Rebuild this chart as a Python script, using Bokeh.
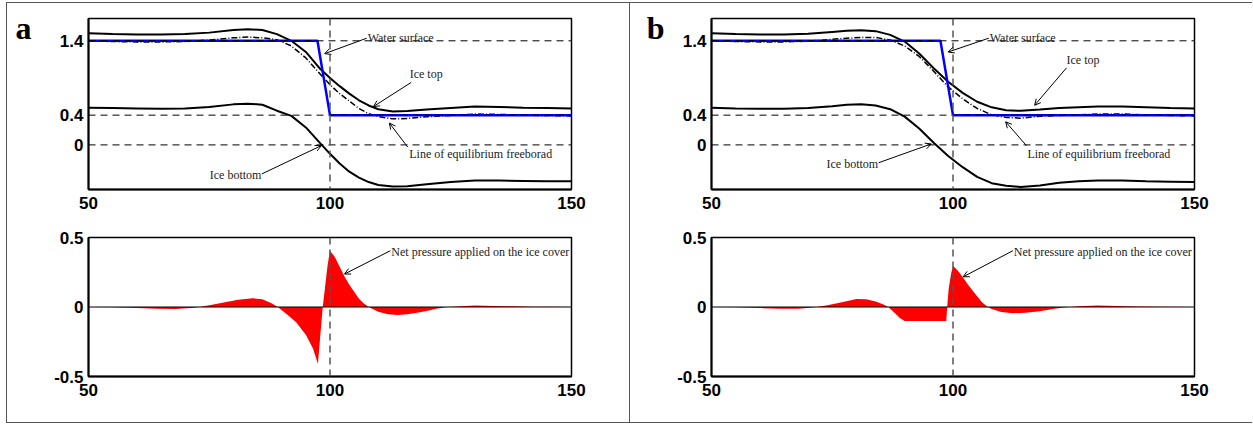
from bokeh.plotting import figure
from bokeh.layouts import row, column
from bokeh.models import Span, Label, Arrow, OpenHead, FixedTicker, Range1d, Spacer, LinearAxis
from bokeh.embed import file_html
from bokeh.resources import INLINE

# ---------------- data ----------------
x_ticks = [50, 100, 150]
top_y_ticks = [0, 0.4, 1.4]
bot_y_ticks = [-0.5, 0, 0.5]

water_x = [50, 97.4, 100, 150]
water_y = [1.4, 1.4, 0.4, 0.4]

# panel a
a_x = [50, 55, 60, 65, 70, 75, 80, 83, 86, 89, 92, 95, 98, 100, 102, 104, 106, 108, 110, 113, 116, 120, 125, 130, 135, 140, 145, 150]
a_ice_top = [1.50, 1.49, 1.485, 1.485, 1.49, 1.51, 1.545, 1.555, 1.545, 1.49, 1.40, 1.25, 1.02, 0.90, 0.79, 0.69, 0.60, 0.53, 0.48, 0.45, 0.455, 0.475, 0.495, 0.515, 0.51, 0.50, 0.495, 0.49]
a_ice_bottom = [0.50, 0.495, 0.49, 0.485, 0.49, 0.51, 0.545, 0.555, 0.54, 0.46, 0.39, 0.235, 0.02, -0.12, -0.25, -0.36, -0.44, -0.50, -0.54, -0.56, -0.555, -0.53, -0.50, -0.48, -0.48, -0.485, -0.49, -0.49]
a_freeboard = [1.40, 1.39, 1.385, 1.385, 1.39, 1.41, 1.44, 1.45, 1.44, 1.415, 1.33, 1.17, 0.95, 0.81, 0.69, 0.59, 0.49, 0.42, 0.38, 0.35, 0.355, 0.38, 0.395, 0.415, 0.41, 0.40, 0.395, 0.39]

a_p_x = [50, 55, 60, 64, 68, 72, 75, 78, 81, 84, 86, 88, 89.2, 91, 93, 95, 96.5, 97.5, 98, 98.5, 99, 99.5, 100, 101, 102, 103, 104, 105, 106, 107, 108, 110, 112, 114, 116, 118, 120, 122, 124, 127, 130, 134, 138, 142, 146, 150]
a_pressure = [0, -0.002, -0.008, -0.013, -0.015, -0.005, 0.012, 0.032, 0.052, 0.063, 0.055, 0.025, 0, -0.05, -0.11, -0.2, -0.3, -0.41, -0.2, 0, 0.15, 0.3, 0.405, 0.36, 0.29, 0.22, 0.16, 0.11, 0.06, 0.025, 0, -0.035, -0.052, -0.058, -0.053, -0.042, -0.028, -0.013, -0.002, 0.006, 0.01, 0.008, 0.005, 0.002, 0.001, 0]

# panel b
b_x = [50, 55, 60, 65, 70, 75, 78, 81, 84, 87, 90, 93, 96, 99, 102, 105, 108, 111, 114, 118, 122, 126, 130, 135, 140, 145, 150]
b_ice_top = [1.50, 1.49, 1.485, 1.485, 1.495, 1.52, 1.535, 1.542, 1.53, 1.48, 1.39, 1.23, 1.03, 0.85, 0.70, 0.58, 0.505, 0.465, 0.458, 0.475, 0.495, 0.505, 0.515, 0.515, 0.505, 0.495, 0.49]
b_ice_bottom = [0.50, 0.49, 0.485, 0.485, 0.495, 0.52, 0.54, 0.547, 0.53, 0.48, 0.38, 0.22, 0.03, -0.15, -0.30, -0.43, -0.515, -0.55, -0.565, -0.545, -0.51, -0.49, -0.48, -0.48, -0.49, -0.495, -0.50]
b_freeboard = [1.40, 1.39, 1.385, 1.385, 1.395, 1.42, 1.435, 1.445, 1.445, 1.41, 1.33, 1.19, 0.99, 0.78, 0.62, 0.49, 0.405, 0.37, 0.36, 0.385, 0.395, 0.405, 0.415, 0.415, 0.405, 0.395, 0.39]

b_p_x = [50, 55, 60, 64, 68, 71, 74, 77, 80, 82, 84, 85.5, 86.6, 88, 89, 90, 94, 98.6, 98.8, 99.1, 99.6, 100, 101, 102, 103, 104, 105, 106, 107, 108, 110, 112.4, 115, 118, 121, 123, 126, 130, 134, 138, 143, 150]
b_pressure = [0, -0.002, -0.008, -0.012, -0.012, -0.004, 0.012, 0.035, 0.058, 0.055, 0.04, 0.02, 0, -0.045, -0.08, -0.1, -0.1, -0.1, 0, 0.13, 0.24, 0.297, 0.26, 0.215, 0.165, 0.12, 0.078, 0.035, 0.005, -0.015, -0.036, -0.045, -0.042, -0.03, -0.013, -0.004, 0.005, 0.01, 0.008, 0.004, 0.002, 0]

TICK_FONT = "Liberation Sans"
ANN_FONT = "Liberation Serif"
ANN_SIZE = "12px"
LETTER_Y = 1.57


def style_axes(p, yticks, overrides):
    p.xgrid.visible = False
    p.ygrid.visible = False
    p.outline_line_color = "black"
    p.outline_line_width = 1.5
    p.xaxis.ticker = FixedTicker(ticks=x_ticks)
    p.yaxis.ticker = FixedTicker(ticks=yticks)
    p.yaxis.major_label_overrides = overrides
    for ax in (p.xaxis, p.yaxis):
        ax.major_tick_line_color = None
        ax.minor_tick_line_color = None
        ax.axis_line_color = "black"
        ax.axis_line_width = 2
        ax.major_label_text_font = TICK_FONT
        ax.major_label_text_font_style = "bold"
        ax.major_label_text_font_size = "17px"
        ax.major_label_text_color = "black"
    p.xaxis.major_label_standoff = 1
    p.yaxis.major_label_standoff = -1


def annotate(p, text, tx, ty, ax0, ay0, ax1, ay1, align="left"):
    p.add_layout(Label(x=tx, y=ty, text=text, text_font=ANN_FONT, text_font_size=ANN_SIZE,
                       text_color="#222222", text_align=align, text_baseline="middle"))
    p.add_layout(Arrow(end=OpenHead(size=6, line_width=1, line_color="black"),
                       x_start=ax0, y_start=ay0, x_end=ax1, y_end=ay1,
                       line_color="black", line_width=1))


def make_top(xs, top, bottom, fb, letter, letter_standoff, ann):
    p = figure(width=622, height=216, x_range=Range1d(50, 150), y_range=Range1d(-0.6, 1.7),
               output_backend="svg", toolbar_location=None,
               min_border_left=81, min_border_right=58, min_border_top=15, min_border_bottom=30)
    style_axes(p, top_y_ticks, {0: "0", 0.4: "0.4", 1.4: "1.4"})
    for lvl in top_y_ticks:
        p.add_layout(Span(location=lvl, dimension="width", line_color="black",
                          line_width=1, line_dash="7 5"))
    p.add_layout(Span(location=100, dimension="height", line_color="#555555",
                      line_width=1.5, line_dash="7 5"))
    p.line(xs, top, line_color="black", line_width=2)
    p.line(xs, bottom, line_color="black", line_width=2)
    p.line(xs, fb, line_color="black", line_width=1.5, line_dash="6 2 1 2")
    p.line(water_x, water_y, line_color="#0000ff", line_width=2.5)
    for a in ann:
        annotate(p, *a)
    # panel letter, carried by an extra (invisible) left axis
    letter_axis = LinearAxis(ticker=FixedTicker(ticks=[LETTER_Y]),
                             major_label_overrides={LETTER_Y: letter},
                             axis_line_color=None, major_tick_line_color=None,
                             minor_tick_line_color=None,
                             major_label_text_font="Liberation Serif",
                             major_label_text_font_style="bold",
                             major_label_text_font_size="32px",
                             major_label_text_color="black",
                             major_label_standoff=letter_standoff)
    p.add_layout(letter_axis, "left")
    return p


def make_bottom(px, pv, ann):
    p = figure(width=622, height=203, x_range=Range1d(50, 150), y_range=Range1d(-0.5, 0.5),
               output_backend="svg", toolbar_location=None,
               min_border_left=81, min_border_right=58, min_border_top=18, min_border_bottom=46)
    style_axes(p, bot_y_ticks, {0: "0", 0.5: "0.5", -0.5: "-0.5"})
    p.varea(x=px, y1=[0] * len(px), y2=pv, fill_color="#ff0000")
    p.add_layout(Span(location=0, dimension="width", line_color="black", line_width=1))
    p.add_layout(Span(location=100, dimension="height", line_color="#555555",
                      line_width=1.5, line_dash="7 5"))
    annotate(p, *ann)
    return p


topA = make_top(a_x, a_ice_top, a_ice_bottom, a_freeboard, "a", 19, [
    ("Water surface", 107.8, 1.44, 107.6, 1.435, 98.9, 1.227),
    ("Ice top", 116.5, 0.947, 116.8, 0.84, 109.0, 0.516),
    ("Line of equilibrium freeborad", 116.4, -0.12, 116.1, -0.03, 112.3, 0.293),
    ("Ice bottom", 85.8, -0.40, 85.9, -0.39, 98.2, -0.01, "right"),
])
botA = make_bottom(a_p_x, a_pressure,
                   ("Net pressure applied on the ice cover", 112.7, 0.398, 112.5, 0.405, 103.0, 0.237))

topB = make_top(b_x, b_ice_top, b_ice_bottom, b_freeboard, "b", 9, [
    ("Water surface", 107.6, 1.44, 107.4, 1.435, 99.0, 1.249),
    ("Ice top", 123.5, 1.147, 123.5, 1.036, 116.9, 0.533),
    ("Line of equilibrium freeborad", 115.4, -0.12, 115.2, -0.01, 110.9, 0.311),
    ("Ice bottom", 84.5, -0.253, 84.6, -0.24, 95.5, 0.013, "right"),
])
botB = make_bottom(b_p_x, b_pressure,
                   ("Net pressure applied on the ice cover", 112.6, 0.398, 112.4, 0.405, 102.1, 0.217))

colA = column(topA, botA, styles={"border": "1px solid #555555"})
colB = column(topB, botB, styles={"border-top": "1px solid #555555",
                                  "border-bottom": "1px solid #555555"})
root = column(Spacer(height=2), row(Spacer(width=6), colA, colB))

open("out.html", "w").write(file_html(root, INLINE))
